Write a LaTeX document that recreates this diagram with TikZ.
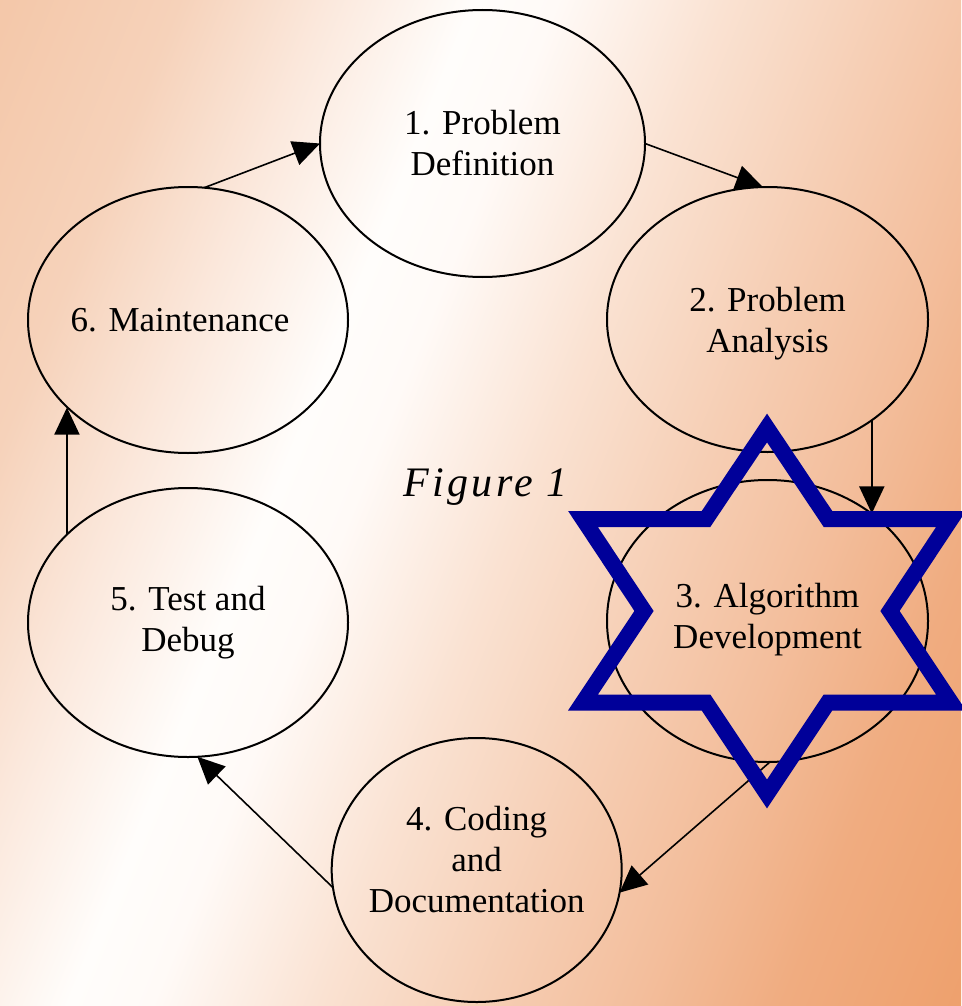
\documentclass[tikz,border=0pt]{standalone}
\usepackage{fontspec}
\setmainfont{Liberation Serif}
\newfontfamily\figlabelfont[LetterSpace=8]{Liberation Serif}
\usetikzlibrary{shapes.geometric,arrows.meta}

% paper tones, peach at the left, white band, orange at the right
\definecolor{bgA}{RGB}{240,185,148}
\definecolor{bgB}{RGB}{244,200,170}
\definecolor{bgC}{RGB}{246,210,186}
\definecolor{bgD}{RGB}{251,232,220}
\definecolor{bgE}{RGB}{255,253,251}
\definecolor{bgF}{RGB}{255,250,247}
\definecolor{bgG}{RGB}{250,226,210}
\definecolor{bgH}{RGB}{246,206,180}
\definecolor{bgI}{RGB}{243,190,156}
\definecolor{bgJ}{RGB}{240,172,128}
\definecolor{bgK}{RGB}{238,160,108}
\definecolor{bgL}{RGB}{236,150,95}
\definecolor{starblue}{RGB}{0,0,153}

\pgfdeclarehorizontalshading{paper}{100bp}{%
  color(0bp)=(bgA); color(18bp)=(bgB); color(26bp)=(bgC); color(33bp)=(bgD);
  color(40bp)=(bgE); color(44bp)=(bgF); color(52bp)=(bgG); color(60bp)=(bgH);
  color(67bp)=(bgI); color(74bp)=(bgJ); color(83bp)=(bgK); color(100bp)=(bgL)}

\tikzset{
  stage/.style={ellipse, draw=black, line width=2pt, inner sep=0pt, outer sep=0pt},
  lbl/.style={align=center, font=\fontsize{35}{41}\selectfont, inner sep=0pt},
  flow/.style={draw=black, line width=1.6pt, -{Triangle[length=27pt,width=25pt]}},
  hexstar/.style={draw=starblue, line width=16pt, line join=miter},
}

\begin{document}
\begin{tikzpicture}[x=1pt,y=-1pt]
  \useasboundingbox (0,0) rectangle (961,1006);

  % background
  \shade[shading=paper, shading angle=-22] (0,0) rectangle (961,1006);

  % the six stages of the cycle
  \node[stage, minimum width=325pt, minimum height=267pt,
        label={[lbl]center:1. Problem\\Definition}] (e1) at (482.5,143.5) {};
  \node[stage, minimum width=321pt, minimum height=265pt,
        label={[lbl, yshift=-4pt]center:2. Problem\\Analysis}] (e2) at (767.5,319.5) {};
  \node[stage, minimum width=321pt, minimum height=282pt,
        label={[lbl, yshift=1pt]center:3. Algorithm\\Development}] (e3) at (767.5,621) {};
  \node[stage, minimum width=290pt, minimum height=264pt,
        label={[lbl, yshift=10pt]center:4. Coding\\and\\Documentation}] (e4) at (476.7,870) {};
  \node[stage, minimum width=320pt, minimum height=269pt,
        label={[lbl]center:5. Test and\\Debug}] (e5) at (188,622.5) {};
  \node[stage, minimum width=320pt, minimum height=266pt,
        label={[lbl, xshift=-8pt]center:6. Maintenance}] (e6) at (188,320) {};

  % caption in the middle
  \node[inner sep=0pt, anchor=base, font=\figlabelfont\itshape\fontsize{42}{48}\selectfont]
    (cap) at (485.5,496) {Figure 1};

  % flow between the stages
  \draw[flow] (e6.83) -- (e1.180);
  \draw[flow] (e1.0) -- (e2.92);
  \draw[flow] (e2.-44) -- (e2.-44 |- e3.46);
  \draw[flow] (e3.-89) -- (e4.-9);
  \draw[flow] (e4.187) -- (e5.-86);
  \draw[flow] (e5.144) -- (e5.144 |- e6.216);

  % six-pointed star over the third stage
  \draw[hexstar] (767,428) -- (828,519) -- (951,519) -- (890,611) -- (951,702.5)
    -- (828,702.5) -- (767,794) -- (706,702.5) -- (583,702.5) -- (644,611)
    -- (583,519) -- (706,519) -- cycle;
\end{tikzpicture}
\end{document}
